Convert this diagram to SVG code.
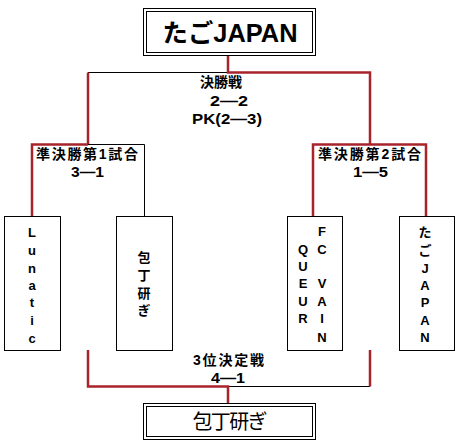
<svg xmlns="http://www.w3.org/2000/svg" width="460" height="442" viewBox="0 0 460 442">
<style>
.bk{stroke:#000;stroke-width:1;fill:none}
.rd{stroke:#a8232b;stroke-width:2.5;fill:none}
.box{fill:#fff;stroke:#000;stroke-width:1}
.t{font-family:"Liberation Sans","Noto Sans CJK JP",sans-serif;font-weight:bold;font-size:14px;text-anchor:middle;fill:#000}
.v{font-family:"Liberation Sans","Noto Sans CJK JP",sans-serif;font-weight:bold;font-size:13px;text-anchor:middle;fill:#000}
.big{font-family:"Liberation Sans","Noto Sans CJK JP",sans-serif;text-anchor:middle;fill:#000}
</style>
<rect width="460" height="442" fill="#fff"/>
<g id="connectors">
  <polyline class="bk" points="88,72.5 228,72.5"/>
  <polyline class="rd" points="228,56 228,72.5 370,72.5 370,144"/>
  <polyline class="rd" points="88,72.5 88,144"/>
  <polyline class="bk" points="88,144.5 144.5,144.5 144.5,216"/>
  <polyline class="rd" points="88,144.5 32,144.5 32,216"/>
  <polyline class="rd" points="313,216 313,144.5 426,144.5 426,216"/>
  <polyline class="bk" points="228,386.5 370,386.5"/>
  <polyline class="rd" points="370,350 370,386.5"/>
  <polyline class="rd" points="88,350 88,386.5 228,386.5 228,403"/>
</g>
<g id="champion">
  <rect class="box" x="143.5" y="8.5" width="172" height="47"/>
  <rect class="box" x="146.5" y="11.5" width="166" height="41"/>
  <text class="big" x="230" y="42" font-size="25" font-weight="bold" textLength="135" lengthAdjust="spacingAndGlyphs">たごJAPAN</text>
</g>
<g id="final-label">
  <text class="t" x="221" y="87" font-size="13">決勝戦</text>
  <text class="t" x="229" y="106" textLength="38" lengthAdjust="spacingAndGlyphs">2—2</text>
  <text class="t" x="227" y="124" textLength="70" lengthAdjust="spacingAndGlyphs">PK(2—3)</text>
</g>
<g id="semi1-label">
  <text class="t" x="87" y="159" textLength="102" lengthAdjust="spacing">準決勝第1試合</text>
  <text class="t" x="87.5" y="177" textLength="33" lengthAdjust="spacingAndGlyphs">3—1</text>
</g>
<g id="semi2-label">
  <text class="t" x="369.5" y="159" textLength="103" lengthAdjust="spacing">準決勝第2試合</text>
  <text class="t" x="370.5" y="177" textLength="35" lengthAdjust="spacingAndGlyphs">1—5</text>
</g>
<g id="third-label">
  <text class="t" x="228.5" y="365" textLength="71" lengthAdjust="spacing">3位決定戦</text>
  <text class="t" x="228" y="383" textLength="34" lengthAdjust="spacingAndGlyphs">4—1</text>
</g>
<g id="lunatic">
  <rect class="box" x="4.5" y="216.5" width="56" height="134"/>
  <text class="v" x="32" y="237">L</text>
  <text class="v" x="32" y="255">u</text>
  <text class="v" x="32" y="273">n</text>
  <text class="v" x="32" y="290">a</text>
  <text class="v" x="32" y="307">t</text>
  <text class="v" x="32" y="325">i</text>
  <text class="v" x="32" y="343">c</text>
</g>
<g id="houchou">
  <rect class="box" x="116.5" y="216.5" width="56" height="134"/>
  <text class="v" x="144" y="262">包</text>
  <text class="v" x="144" y="280">丁</text>
  <text class="v" x="144" y="298">研</text>
  <text class="v" x="144" y="315">ぎ</text>
</g>
<g id="queur-fcvain">
  <rect class="box" x="287.5" y="216.5" width="55" height="134"/>
  <text class="v" x="322" y="236">F</text>
  <text class="v" x="322" y="254">C</text>
  <text class="v" x="322" y="288">V</text>
  <text class="v" x="322" y="306">A</text>
  <text class="v" x="322" y="323">I</text>
  <text class="v" x="322" y="342">N</text>
  <text class="v" x="303" y="254">Q</text>
  <text class="v" x="303" y="271">U</text>
  <text class="v" x="303" y="288">E</text>
  <text class="v" x="303" y="306">U</text>
  <text class="v" x="303" y="323">R</text>
</g>
<g id="tago-japan">
  <rect class="box" x="399.5" y="216.5" width="55" height="134"/>
  <text class="v" x="425" y="237">た</text>
  <text class="v" x="425" y="255">ご</text>
  <text class="v" x="425" y="273">J</text>
  <text class="v" x="425" y="290">A</text>
  <text class="v" x="425" y="307">P</text>
  <text class="v" x="425" y="325">A</text>
  <text class="v" x="425" y="342">N</text>
</g>
<g id="third-place">
  <rect class="box" x="143.5" y="403.5" width="172" height="36"/>
  <rect class="box" x="146.5" y="406.5" width="166" height="30"/>
  <text class="big" x="230" y="429" font-size="20" textLength="75" lengthAdjust="spacing">包丁研ぎ</text>
</g>
</svg>
